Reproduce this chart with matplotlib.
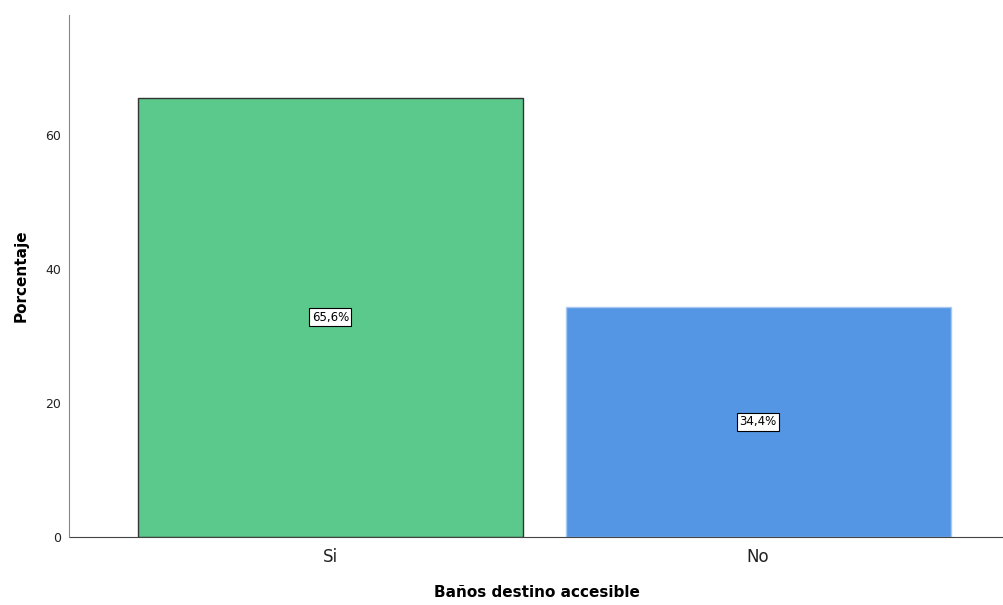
import matplotlib
matplotlib.use("Agg")
import matplotlib.pyplot as plt

categories = ["Si", "No"]
values = [65.6, 34.4]
labels = ["65,6%", "34,4%"]
colors = ["#5bc98b", "#5596e4"]
edgecolors = ["#333333", "#a8c8f0"]
yticks = [0, 20, 40, 60]

fig = plt.figure(figsize=(10.04, 6.05), dpi=100)
ax = fig.add_axes([69.5/1004, 68.3/605, (1004-69.5)/1004, (536.7-15)/605])

x = list(range(len(categories)))
bars = ax.bar(x, values, width=0.9, color=colors, edgecolor=edgecolors, linewidth=1.0, zorder=2)
for xi, v, lab in zip(x, values, labels):
    ax.text(xi, v/2, lab, ha="center", va="center", fontsize=8.5, color="black",
            bbox=dict(boxstyle="square,pad=0.2", facecolor="white", edgecolor="black", linewidth=0.8), zorder=3)

ax.set_xlim(-0.61, 1.575)
ax.set_ylim(0, 78.0)
ax.set_yticks(yticks)
ax.set_yticklabels([str(t) for t in yticks], fontsize=9, color="#222222")
ax.set_xticks(x)
ax.set_xticklabels(categories, fontsize=12, color="#222222")
ax.tick_params(axis="both", length=0, pad=6)
ax.tick_params(axis="x", pad=8)

for s in ["top", "right"]:
    ax.spines[s].set_visible(False)
ax.spines["left"].set_color("#888888")
ax.spines["bottom"].set_color("#444444")

ax.set_ylabel("Porcentaje", fontsize=11, fontweight="bold", labelpad=12)
ax.set_xlabel("Baños destino accesible", fontsize=11, fontweight="bold", labelpad=14)

fig.savefig("out.png", dpi=100)
